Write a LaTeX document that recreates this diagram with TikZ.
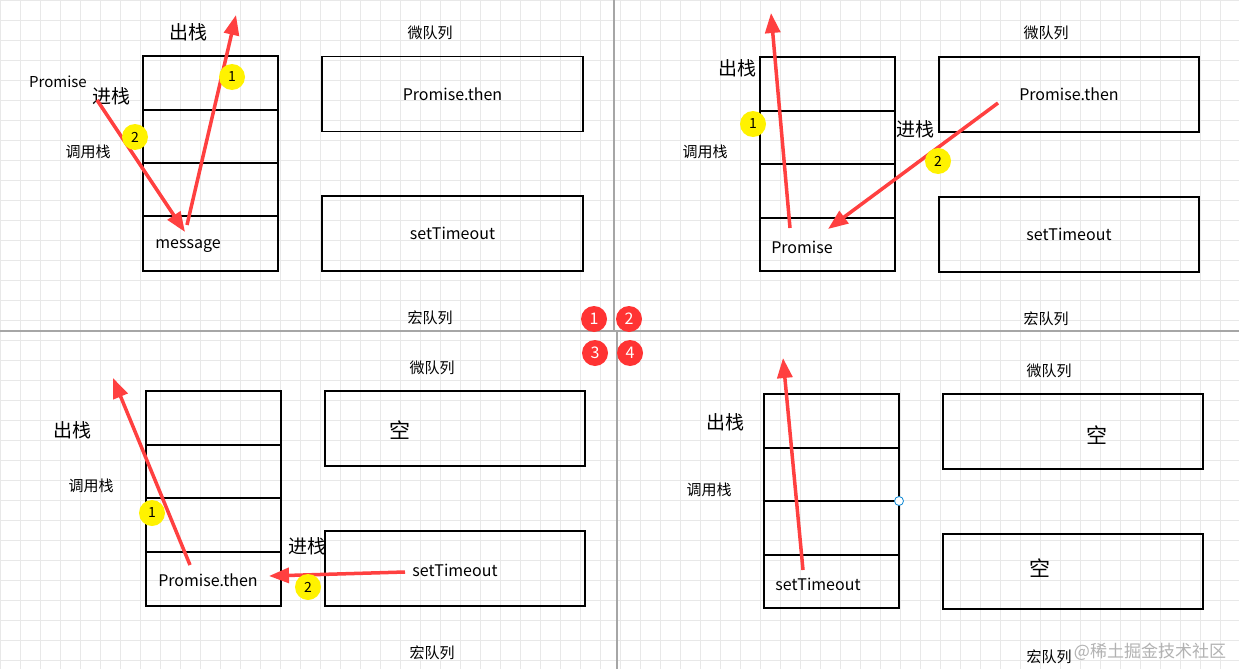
\documentclass[tikz,border=0pt]{standalone}
\usepackage{fontspec}
\setmainfont{Noto Sans CJK SC}
\usetikzlibrary{arrows.meta}
\tikzset{
 box/.style={draw,line width=1.8pt},
 arr/.style={draw=red!80!black!90,color=red!75,line width=3.5pt,-{Triangle[length=20,width=15]}},
 yc/.style={circle,fill=yellow,inner sep=0pt,minimum size=26,font=\fontsize{14}{14}\selectfont},
 rc/.style={circle,fill=red!80,text=white,inner sep=0pt,minimum size=26,font=\fontsize{16}{16}\selectfont},
 lab/.style={font=\fontsize{16}{16}\selectfont},
 sm/.style={font=\fontsize{15}{15}\selectfont},
 big/.style={font=\fontsize{19}{19}\selectfont},
}
\begin{document}
\begin{tikzpicture}[x=1pt,y=-1pt]
\useasboundingbox (0,0) rectangle (1239,669);
\fill[white] (0,0) rectangle (1239,669);
\foreach \i in {0,...,62}{\draw[gray!18,line width=0.6pt] (\i*20,0)--(\i*20,669);}
\foreach \j in {0,...,34}{\draw[gray!18,line width=0.6pt] (0,\j*20)--(1239,\j*20);}
\draw[gray!70,line width=1.5pt] (614,0)--(614,331) (0,331)--(1239,331) (617,331)--(617,669);
% Panel 1
\foreach \a/\b in {56/110,110/163,163/216,216/271}{\draw[box] (143,\a) rectangle (278,\b);}
\node[box,minimum width=261,minimum height=75] (m1) at (452.5,94) {};
\node[lab] at (m1) {Promise.then};
\node[box,minimum width=261,minimum height=75] (M1) at (452.5,233.5) {};
\node[lab] at (M1) {setTimeout};
\node[sm] (w1) at (430,33) {微队列};
\node[sm] (h1) at (430,318) {宏队列};
\node[sm] (c1) at (88,152) {调用栈};
\node[big] (o1) at (188,32) {出栈};
\node[big] (j1) at (111,96) {进栈};
\node[sm] (p1) at (58,82) {Promise};
\node[lab] (s1) at (188,246) {message};
\coordinate (a1) at (97,100); \coordinate (a2) at (185,232);
\coordinate (b1) at (187,225); \coordinate (b2) at (236,15);
\draw[arr] (a1)--(a2); \draw[arr] (b1)--(b2);
\node[yc] at (232,77) {1}; \node[yc] at (135,137) {2};
% Panel 2
\foreach \a/\b in {57/111,111/164,164/218,218/271}{\draw[box] (760,\a) rectangle (895,\b);}
\node[box,minimum width=260,minimum height=75] (m2) at (1069,94.5) {};
\node[lab] at (m2) {Promise.then};
\node[box,minimum width=260,minimum height=75] (M2) at (1069,234.5) {};
\node[lab] at (M2) {setTimeout};
\node[sm] at (1046,33) {微队列};
\node[sm] at (1046,319) {宏队列};
\node[sm] at (705,152) {调用栈};
\node[big] at (737,68) {出栈};
\node[big] at (915,129) {进栈};
\node[lab] at (802,247) {Promise};
\coordinate (c1a) at (998,103); \coordinate (c1b) at (828,229);
\coordinate (d1a) at (790,228); \coordinate (d1b) at (771,13);
\draw[arr] (c1a)--(c1b); \draw[arr] (d1a)--(d1b);
\node[yc] at (753,124) {1}; \node[yc] at (938,161) {2};
% Panel 3
\foreach \a/\b in {391/445,445/498,498/552,552/606}{\draw[box] (146,\a) rectangle (281,\b);}
\node[box,minimum width=260,minimum height=75] (m3) at (455,428.5) {};
\node[font=\fontsize{21}{21}\selectfont] at (400,430) {空};
\node[box,minimum width=260,minimum height=75] (M3) at (455,568.5) {};
\node[lab] at (455,570) {setTimeout};
\node[sm] at (432,368) {微队列};
\node[sm] at (432,653) {宏队列};
\node[sm] at (91,486) {调用栈};
\node[big] at (72,430) {出栈};
\node[big] at (307,546) {进栈};
\node[lab] at (208,580) {Promise.then};
\coordinate (e1) at (190,565); \coordinate (e2) at (113,378);
\coordinate (f1) at (405,572); \coordinate (f2) at (269,576);
\draw[arr] (e1)--(e2); \draw[arr] (f1)--(f2);
\node[yc] at (152,513) {1}; \node[yc] at (308,587) {2};
% Panel 4
\foreach \a/\b in {394/448,448/501,501/555,555/608}{\draw[box] (764,\a) rectangle (899,\b);}
\node[box,minimum width=260,minimum height=75] (m4) at (1073,431.5) {};
\node[font=\fontsize{21}{21}\selectfont] at (1097,435) {空};
\node[box,minimum width=260,minimum height=75] (M4) at (1073,571.5) {};
\node[font=\fontsize{21}{21}\selectfont] at (1040,568) {空};
\node[sm] at (1049,371) {微队列};
\node[sm] at (1049,657) {宏队列};
\node[sm] at (709,490) {调用栈};
\node[big] at (725,422) {出栈};
\node[lab] at (818,584) {setTimeout};
\coordinate (g1) at (803,570); \coordinate (g2) at (783,358);
\draw[arr] (g1)--(g2);
\draw[cyan!70!blue,fill=white,line width=0.8pt] (899,501) circle (4.5);
% numbered
\node[rc] at (594,319) {1}; \node[rc] at (629,319) {2};
\node[rc] at (595,353) {3}; \node[rc] at (630,353) {4};
\node[gray!60,font=\fontsize{17}{17}\selectfont] at (1150,652) {@稀土掘金技术社区};
\end{tikzpicture}
\end{document}
